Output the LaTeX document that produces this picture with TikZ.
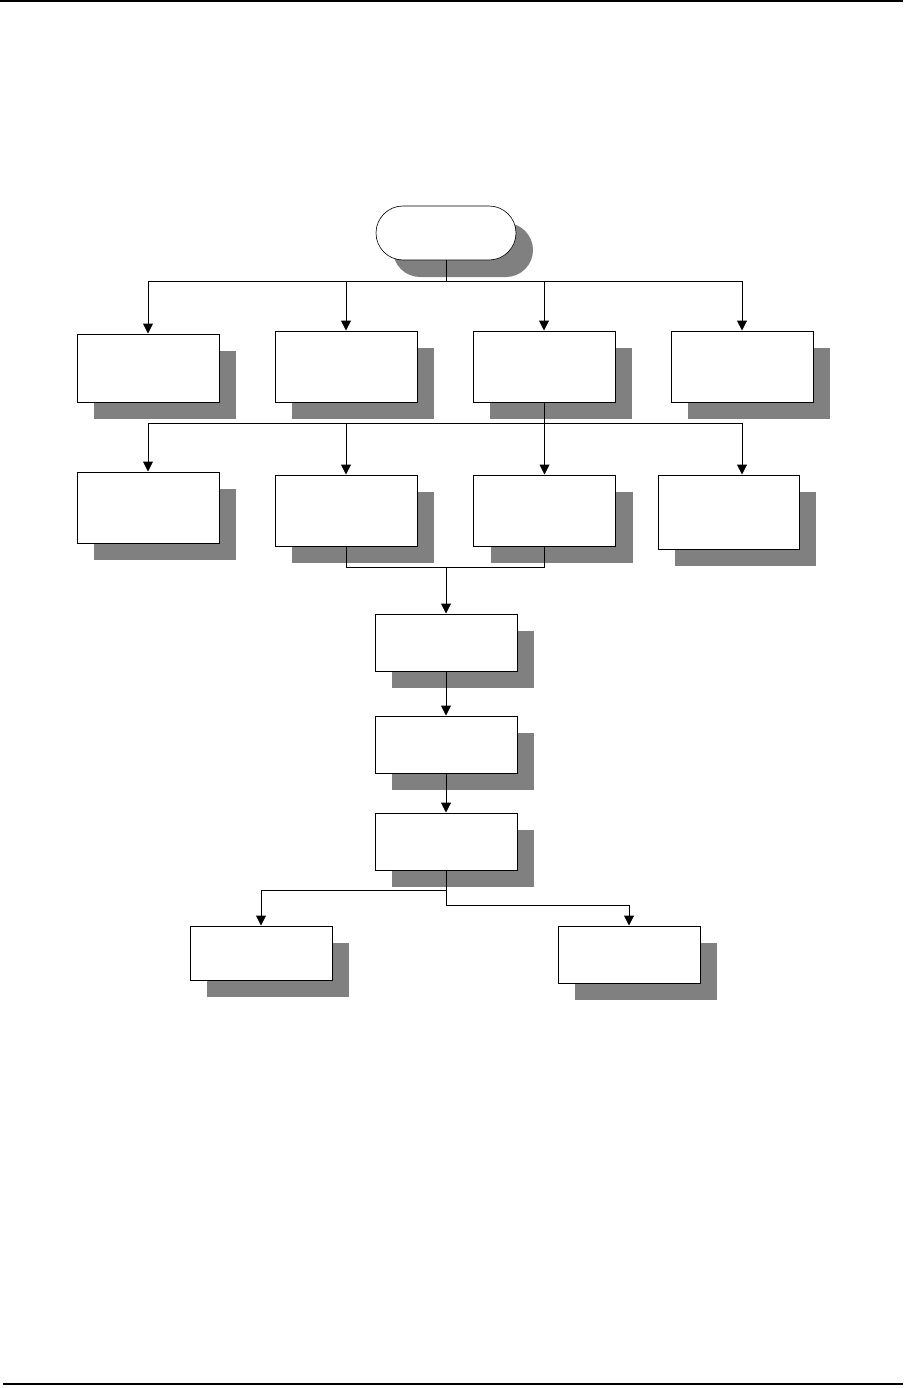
\documentclass[tikz,border=0pt]{standalone}
\usetikzlibrary{arrows.meta,shadows}
\begin{document}
\begin{tikzpicture}[x=1pt,y=-1pt,
  box/.style={draw=black,line width=1pt,fill=white,inner sep=0pt,
    minimum width=142pt,
    drop shadow={shadow xshift=17pt,shadow yshift=-17pt,fill=black!50,opacity=1}},
  term/.style={box,rounded corners=27pt,minimum width=140pt,minimum height=54pt,line width=0.6pt},
  conn/.style={line width=1pt},
  arr/.style={conn,-{Triangle[length=10pt,width=10pt]}},
  rule/.style={line width=1.5pt}]
\useasboundingbox (0,0) rectangle (912,1388);
\draw[rule] (0,1) -- (903,1);
\draw[rule] (3,1384) -- (903,1384);

\node[term] (start) at (446,233) {};
\node[box,minimum height=68pt] (b1) at (148,368) {};
\node[box,minimum height=71pt] (b2) at (346,366.5) {};
\node[box,minimum height=71pt] (b3) at (544,366.5) {};
\node[box,minimum height=71pt] (b4) at (742,366.5) {};
\node[box,minimum height=71pt] (b5) at (148,507.5) {};
\node[box,minimum height=71pt] (b6) at (346,510.5) {};
\node[box,minimum height=71pt] (b7) at (544.5,510.5) {};
\node[box,minimum height=74pt,minimum width=141pt] (b8) at (728.5,512) {};
\node[box,minimum height=57pt] (b9) at (446,642.5) {};
\node[box,minimum height=57pt] (b10) at (446,744.5) {};
\node[box,minimum height=57pt] (b11) at (446,841.5) {};
\node[box,minimum height=54pt] (b12) at (261,953) {};
\node[box,minimum height=57pt] (b13) at (629,954.5) {};

\coordinate (bus1) at (446,281);
\draw[conn] (start.south) -- (bus1);
\draw[arr] (bus1) -| (b1.north);
\draw[arr] (bus1) -| (b2.north);
\draw[arr] (bus1) -| (b3.north);
\draw[arr] (bus1) -| (b4.north);

\coordinate (bus2) at (544,423);
\draw[conn] (b3.south) -- (bus2);
\draw[arr] (bus2) -| (b5.north);
\draw[arr] (bus2) -| (b6.north);
\draw[arr] (bus2) -| (b7.north);
\draw[arr] (bus2) -| (b4.south |- b8.north);

\coordinate (merge) at (446,567);
\draw[conn] (b6.south) |- (merge);
\draw[conn] (b7.south) |- (merge);
\draw[arr] (merge) -- (b9.north);

\draw[arr] (b9.south) -- (b10.north);
\draw[arr] (b10.south) -- (b11.north);

\coordinate (s1) at (446,890);
\coordinate (s2) at (446,905);
\draw[arr] (b11.south) -- (s1) -| (b12.north);
\draw[arr] (b11.south) -- (s2) -| (b13.north);
\end{tikzpicture}
\end{document}
